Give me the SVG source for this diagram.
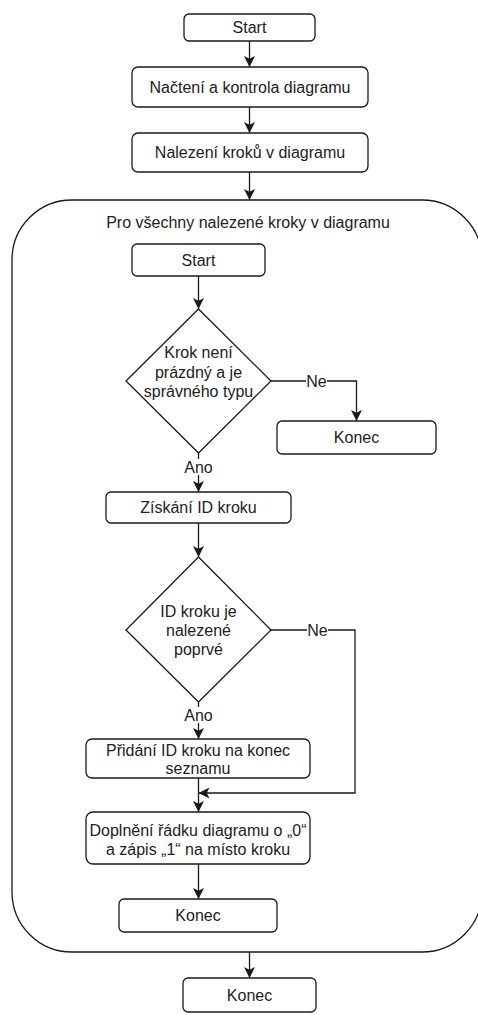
<svg xmlns="http://www.w3.org/2000/svg" width="478" height="1015" viewBox="0 0 478 1015">
<style>
.box{fill:#fff;stroke:#1a1a1a;stroke-width:1.3}
.t{font-family:"Liberation Sans",Arial,sans-serif;font-size:16px;fill:#222;text-anchor:middle}
.c{fill:none;stroke:#1a1a1a;stroke-width:1.3}
.lbl{fill:#fff;stroke:none}
</style>
<defs>
<marker id="arr" markerUnits="userSpaceOnUse" markerWidth="11" markerHeight="11" refX="10" refY="5" orient="auto" viewBox="0 0 10 10">
<path d="M0,0 L10,5 L0,10 L2.5,5 Z" fill="#1a1a1a"/>
</marker>
</defs>
<rect width="478" height="1015" fill="#fff"/>
<g id="container">
<rect class="box" x="12" y="200" width="470" height="752" rx="60" ry="60"/>
<text class="t" x="248" y="228">Pro všechny nalezené kroky v diagramu</text>
</g>
<g id="start"><rect class="box" x="184" y="14" width="131" height="27" rx="5"/><text class="t" x="249.5" y="33">Start</text></g>
<g id="nacteni"><rect class="box" x="132" y="67" width="236" height="40" rx="6"/><text class="t" x="250" y="93">Načtení a kontrola diagramu</text></g>
<g id="nalezeni"><rect class="box" x="132" y="133" width="236" height="39" rx="6"/><text class="t" x="250" y="158">Nalezení kroků v diagramu</text></g>
<g id="start2"><rect class="box" x="132" y="244" width="133" height="32" rx="5"/><text class="t" x="198.5" y="266">Start</text></g>
<g id="dec1"><path class="box" d="M198.5,309 L271,381 L198.5,453 L126,381 Z"/>
<text class="t" x="198.5" y="357.5">Krok není</text><text class="t" x="198.5" y="377.5">prázdný a je</text><text class="t" x="198.5" y="396.5">správného typu</text></g>
<g id="konec1"><rect class="box" x="277" y="421" width="159" height="33" rx="5"/><text class="t" x="356.5" y="443">Konec</text></g>
<g id="ziskani"><rect class="box" x="106" y="492" width="185" height="31" rx="5"/><text class="t" x="198.5" y="513">Získání ID kroku</text></g>
<g id="dec2"><path class="box" d="M198.5,557 L271,630 L198.5,702 L126,630 Z"/>
<text class="t" x="198.5" y="616.5">ID kroku je</text><text class="t" x="198.5" y="635.5">nalezené</text><text class="t" x="198.5" y="654.5">poprvé</text></g>
<g id="pridani"><rect class="box" x="86" y="739" width="224" height="39" rx="6"/><text class="t" x="198" y="755.5">Přidání ID kroku na konec</text><text class="t" x="198" y="774">seznamu</text></g>
<g id="doplneni"><rect class="box" x="86" y="812" width="224" height="52" rx="7"/><text class="t" x="198" y="835.5">Doplnění řádku diagramu o „0“</text><text class="t" x="198" y="854.5">a zápis „1“ na místo kroku</text></g>
<g id="konec2"><rect class="box" x="119" y="899" width="158" height="33" rx="5"/><text class="t" x="198" y="921">Konec</text></g>
<g id="konec3"><rect class="box" x="183" y="978" width="133" height="34" rx="5"/><text class="t" x="249.5" y="1001">Konec</text></g>
<g id="connectors">
<path class="c" d="M249.5,41 V67" marker-end="url(#arr)"/>
<path class="c" d="M249.5,107 V133" marker-end="url(#arr)"/>
<path class="c" d="M249.5,172 V200" marker-end="url(#arr)"/>
<path class="c" d="M198.5,276 V309" marker-end="url(#arr)"/>
<path class="c" d="M271,381 H356.5 V421" marker-end="url(#arr)"/>
<rect class="lbl" x="306" y="373" width="21" height="16"/>
<text class="t" x="316.5" y="386.5">Ne</text>
<path class="c" d="M198.5,453 V492" marker-end="url(#arr)"/>
<rect class="lbl" x="184" y="459" width="29" height="16"/>
<text class="t" x="198.5" y="472.5">Ano</text>
<path class="c" d="M198.5,523 V557" marker-end="url(#arr)"/>
<path class="c" d="M271,630 H355 V793 H198.5" marker-end="url(#arr)"/>
<rect class="lbl" x="307" y="622" width="21" height="16"/>
<text class="t" x="317.5" y="635.5">Ne</text>
<path class="c" d="M198.5,702 V739" marker-end="url(#arr)"/>
<rect class="lbl" x="184" y="707" width="29" height="16"/>
<text class="t" x="198.5" y="720.5">Ano</text>
<path class="c" d="M198.5,778 V812" marker-end="url(#arr)"/>
<path class="c" d="M198.5,864 V899" marker-end="url(#arr)"/>
<path class="c" d="M249.5,952 V978" marker-end="url(#arr)"/>
</g>
</svg>
